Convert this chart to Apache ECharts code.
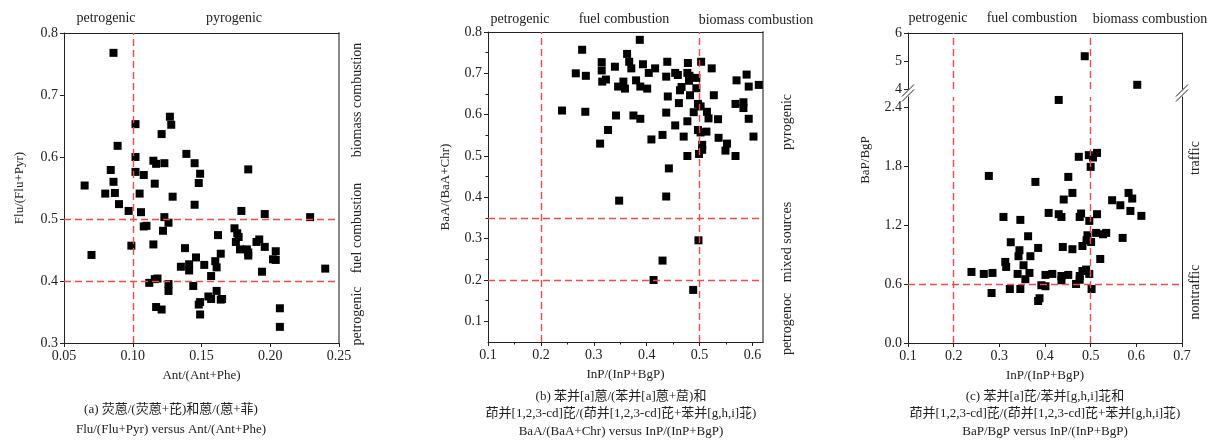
<!DOCTYPE html>
<html>
<head>
<meta charset="utf-8">
<script src="https://cdn.jsdelivr.net/npm/echarts@6/dist/echarts.min.js"></script>
<style>
  html, body { margin: 0; padding: 0; background: #fff; }
  #chart { width: 1218px; height: 444px; }
</style>
</head>
<body>
<div id="chart"></div>
<script>
// (a) Ant/(Ant+Phe) vs Flu/(Flu+Pyr)
var antX = [0.086, 0.102, 0.127, 0.128, 0.121, 0.089, 0.102, 0.115, 0.117, 0.123, 0.139, 0.145,
  0.149, 0.148, 0.184, 0.084, 0.086, 0.065, 0.102, 0.108, 0.116, 0.080, 0.087, 0.105, 0.129,
  0.090, 0.145, 0.097, 0.106, 0.179, 0.196, 0.229, 0.123, 0.126, 0.122, 0.108, 0.110,
  0.070, 0.099, 0.115, 0.138, 0.162, 0.174, 0.176, 0.177, 0.175, 0.178, 0.183, 0.184, 0.184,
  0.190, 0.192, 0.196, 0.204, 0.202, 0.204, 0.194, 0.240, 0.146, 0.152, 0.141, 0.135, 0.141,
  0.160, 0.161, 0.164, 0.157, 0.112, 0.116, 0.118, 0.126, 0.126, 0.144, 0.161, 0.117, 0.121,
  0.148, 0.149, 0.155, 0.157, 0.164, 0.165, 0.149, 0.207, 0.207];
var fluY = [0.768, 0.653, 0.665, 0.652, 0.637, 0.618, 0.600, 0.594, 0.589, 0.590, 0.605, 0.590,
  0.573, 0.558, 0.580, 0.579, 0.560, 0.554, 0.576, 0.571, 0.557, 0.541, 0.542, 0.541, 0.536,
  0.524, 0.523, 0.513, 0.511, 0.513, 0.508, 0.503, 0.503, 0.494, 0.481, 0.488, 0.489,
  0.442, 0.457, 0.459, 0.453, 0.474, 0.485, 0.477, 0.471, 0.463, 0.451, 0.451, 0.441, 0.446,
  0.463, 0.467, 0.455, 0.448, 0.435, 0.434, 0.415, 0.420, 0.438, 0.426, 0.427, 0.423, 0.417,
  0.432, 0.422, 0.444, 0.408, 0.397, 0.403, 0.404, 0.395, 0.384, 0.392, 0.384, 0.358, 0.354,
  0.362, 0.366, 0.375, 0.371, 0.370, 0.371, 0.346, 0.356, 0.326];

// (b) InP/(InP+BgP) vs BaA/(BaA+Chr)
var inpX = [0.240, 0.284, 0.266, 0.278, 0.285, 0.312, 0.315, 0.315, 0.316, 0.323, 0.340, 0.327,
  0.342, 0.346, 0.356, 0.359, 0.363, 0.367, 0.371, 0.387, 0.375, 0.380, 0.388, 0.388, 0.393,
  0.401, 0.404, 0.416, 0.409, 0.430, 0.437, 0.439, 0.437, 0.440, 0.442, 0.454, 0.459, 0.454,
  0.461, 0.463, 0.466, 0.470, 0.477, 0.477, 0.478, 0.477, 0.481, 0.480, 0.482, 0.489, 0.494,
  0.494, 0.503, 0.497, 0.502, 0.497, 0.502, 0.513, 0.505, 0.505, 0.499, 0.514, 0.517, 0.523,
  0.527, 0.535, 0.536, 0.552, 0.549, 0.568, 0.570, 0.568, 0.583, 0.583, 0.589, 0.593, 0.593,
  0.602, 0.612, 0.437, 0.348, 0.498, 0.430, 0.413, 0.488];
var baaY = [0.610, 0.607, 0.700, 0.757, 0.694, 0.530, 0.727, 0.707, 0.680, 0.685, 0.716, 0.563,
  0.598, 0.668, 0.680, 0.663, 0.747, 0.728, 0.712, 0.781, 0.598, 0.683, 0.590, 0.668, 0.722,
  0.663, 0.701, 0.712, 0.540, 0.551, 0.605, 0.728, 0.692, 0.644, 0.470, 0.701, 0.696, 0.574,
  0.628, 0.659, 0.667, 0.547, 0.584, 0.500, 0.725, 0.701, 0.694, 0.682, 0.647, 0.606, 0.664,
  0.689, 0.728, 0.626, 0.620, 0.563, 0.557, 0.559, 0.527, 0.515, 0.505, 0.607, 0.591, 0.712,
  0.647, 0.589, 0.544, 0.530, 0.513, 0.500, 0.683, 0.626, 0.630, 0.616, 0.697, 0.668, 0.590,
  0.547, 0.672, 0.402, 0.392, 0.296, 0.247, 0.200, 0.176];

// (c) InP/(InP+BgP) vs BaP/BgP
var bgpX = [0.487, 0.602, 0.430, 0.277, 0.379, 0.451, 0.474, 0.496, 0.505, 0.514, 0.500, 0.460,
  0.583, 0.591, 0.441, 0.547, 0.565, 0.587, 0.611, 0.309, 0.346, 0.408, 0.430, 0.436, 0.479,
  0.476, 0.514, 0.497, 0.325, 0.363, 0.344, 0.342, 0.368, 0.385, 0.439, 0.460, 0.482, 0.493,
  0.491, 0.501, 0.512, 0.527, 0.534, 0.570, 0.521, 0.313, 0.315, 0.353, 0.239, 0.266, 0.285,
  0.340, 0.366, 0.357, 0.401, 0.416, 0.436, 0.451, 0.436, 0.476, 0.482, 0.490, 0.497, 0.476,
  0.468, 0.392, 0.401, 0.502, 0.323, 0.346, 0.283, 0.388, 0.385];
var bapY = [5.17, 4.15, 2.47, 1.698, 1.637, 1.688, 1.892, 1.909, 1.885, 1.932, 1.790, 1.525,
  1.525, 1.468, 1.458, 1.451, 1.400, 1.342, 1.292, 1.281, 1.251, 1.322, 1.309, 1.281, 1.316,
  1.281, 1.309, 1.241, 1.024, 1.085, 0.943, 0.882, 0.882, 0.966, 0.976, 0.953, 0.986, 1.095,
  1.044, 1.027, 1.119, 1.105, 1.119, 1.068, 0.854, 0.824, 0.773, 0.790, 0.722, 0.702, 0.712,
  0.702, 0.712, 0.648, 0.692, 0.702, 0.681, 0.692, 0.638, 0.681, 0.732, 0.746, 0.702, 0.643,
  0.600, 0.587, 0.577, 0.549, 0.549, 0.549, 0.508, 0.455, 0.427];

var aTicksY = [0.3, 0.4, 0.5, 0.6, 0.7, 0.8];
var bTicksX = [0.1, 0.2, 0.3, 0.4, 0.5, 0.6];
var bTicksY = [0.1, 0.2, 0.3, 0.4, 0.5, 0.6, 0.7, 0.8];
var cTicksY = [0, 0.6, 1.2, 1.8, 2.4];

var FONT = "'Liberation Serif', 'Times New Roman', 'Noto Sans CJK SC', serif";
var RED = "#f44a4a";

function zip(xs, ys) {
  return xs.map(function (x, i) { return [x, ys[i]]; });
}
var cPts = zip(bgpX, bapY);
var cTop = cPts.filter(function (p) { return p[1] > 3; });
var cBottom = cPts.filter(function (p) { return p[1] <= 3; });

function halfSteps(list) {
  var out = [];
  for (var i = 0; i < list.length - 1; i++) out.push(+((list[i] + list[i + 1]) / 2).toFixed(3));
  return out;
}

var axisLine = { show: true, lineStyle: { color: "#222", width: 1 } };
var labelStyle = { color: "#222", fontSize: 14, fontFamily: FONT };
var nameStyle = { color: "#222", fontSize: 13, fontFamily: FONT };

function mainAxis(opts) {
  return Object.assign({
    type: "value",
    scale: true,
    splitLine: { show: false },
    axisLine: axisLine,
    axisTick: { show: true, length: 4, lineStyle: { color: "#222" } },
    axisLabel: Object.assign({ margin: 6 }, labelStyle),
    nameTextStyle: nameStyle,
    nameLocation: "middle",
  }, opts);
}
function borderAxis(grid, pos, color, width, min, max) {
  return {
    type: "value", gridIndex: grid, position: pos, min: min, max: max,
    axisLine: { show: true, onZero: false, lineStyle: { color: color, width: width } },
    axisTick: { show: false }, axisLabel: { show: false }, splitLine: { show: false },
  };
}
function minorAxis(grid, pos, min, max, values) {
  return {
    type: "value", gridIndex: grid, position: pos, min: min, max: max,
    axisLine: { show: false },
    axisTick: { show: true, length: 2.5, customValues: values, lineStyle: { color: "#222" } },
    axisLabel: { show: false }, splitLine: { show: false },
  };
}
function dashLine(items) {
  return {
    silent: true, symbol: "none", label: { show: false },
    lineStyle: { color: RED, type: [7, 4], width: 1.4 },
    emphasis: { disabled: true },
    data: items,
  };
}
function scatter(xi, yi, data, ml) {
  return {
    type: "scatter", xAxisIndex: xi, yAxisIndex: yi, data: data,
    symbol: "rect", symbolSize: 8, itemStyle: { color: "#000", opacity: 1 },
    markLine: ml, z: 3,
  };
}
function txt(x, y, s, rot, size) {
  return {
    type: "text", x: x, y: y, rotation: rot || 0, silent: true,
    style: { text: s, x: 0, y: 0, align: "center", verticalAlign: "middle",
      fill: "#222", fontSize: size || 14, fontFamily: FONT },
  };
}
function slash(x, y) {
  var g = [];
  [-2.5, 2.5].forEach(function (d) {
    g.push({ type: "line", silent: true, shape: { x1: x - 6, y1: y + d + 6, x2: x + 6, y2: y + d - 6 },
      style: { stroke: "#222", lineWidth: 1 } });
  });
  return g;
}

var chart = echarts.init(document.getElementById("chart"));
var option = {
  animation: false,
  grid: [
    { left: 64, top: 33, width: 275, height: 310 },
    { left: 488, top: 32, width: 275, height: 310 },
    { left: 908, top: 33, width: 274, height: 56 },
    { left: 908, top: 97, width: 274, height: 246 },
  ],
  xAxis: [
    mainAxis({ gridIndex: 0, min: 0.05, max: 0.25, interval: 0.05, name: "Ant/(Ant+Phe)", nameGap: 26,
      axisLabel: Object.assign({ margin: 6, formatter: function (v) { return v.toFixed(2); } }, labelStyle) }),
    borderAxis(0, "top", "#222", 1, 0.05, 0.25),
    mainAxis({ gridIndex: 1, min: 0.1, max: 0.62, name: "InP/(InP+BgP)", nameGap: 26,
      axisTick: { show: true, length: 4, customValues: bTicksX, lineStyle: { color: "#222" } },
      axisLabel: Object.assign({ margin: 6, customValues: bTicksX, formatter: function (v) { return v.toFixed(1); } }, labelStyle) }),
    minorAxis(1, "bottom", 0.1, 0.62, halfSteps(bTicksX)),
    borderAxis(1, "top", "#222", 1, 0.1, 0.62),
    { type: "value", gridIndex: 2, min: 0.1, max: 0.7, show: false },
    borderAxis(2, "top", "#222", 1, 0.1, 0.7),
    mainAxis({ gridIndex: 3, min: 0.1, max: 0.7, interval: 0.1, name: "InP/(InP+BgP)", nameGap: 26,
      axisLabel: Object.assign({ margin: 6, formatter: function (v) { return v.toFixed(1); } }, labelStyle) }),
  ],
  yAxis: [
    mainAxis({ gridIndex: 0, min: 0.3, max: 0.8, interval: 0.1, name: "Flu/(Flu+Pyr)", nameGap: 38,
      axisLabel: Object.assign({ margin: 6, formatter: function (v) { return v.toFixed(1); } }, labelStyle) }),
    borderAxis(0, "right", "#888", 2, 0.3, 0.8),
    mainAxis({ gridIndex: 1, min: 0.05, max: 0.8, name: "BaA/(BaA+Chr)", nameGap: 36,
      axisTick: { show: true, length: 4, customValues: bTicksY, lineStyle: { color: "#222" } },
      axisLabel: Object.assign({ margin: 6, customValues: bTicksY, formatter: function (v) { return v.toFixed(1); } }, labelStyle) }),
    minorAxis(1, "left", 0.05, 0.8, halfSteps(bTicksY)),
    borderAxis(1, "right", "#888", 2, 0.05, 0.8),
    mainAxis({ gridIndex: 2, min: 4, max: 6, interval: 1 }),
    borderAxis(2, "right", "#222", 1, 4, 6),
    mainAxis({ gridIndex: 3, min: 0, max: 2.5,
      axisTick: { show: true, length: 4, customValues: cTicksY, lineStyle: { color: "#222" } },
      axisLabel: Object.assign({ margin: 6, customValues: cTicksY, formatter: function (v) { return v.toFixed(1); } }, labelStyle) }),
    borderAxis(3, "right", "#222", 1, 0, 2.5),
  ],
  series: [
    scatter(0, 0, zip(antX, fluY), dashLine([{ xAxis: 0.1 }, { yAxis: 0.5 }, { yAxis: 0.4 }])),
    scatter(2, 2, zip(inpX, baaY), dashLine([{ xAxis: 0.2 }, { xAxis: 0.5 }, { yAxis: 0.35 }, { yAxis: 0.2 }])),
    scatter(5, 5, cTop, dashLine([{ xAxis: 0.2 }, { xAxis: 0.5 }])),
    scatter(7, 7, cBottom, dashLine([{ xAxis: 0.2 }, { xAxis: 0.5 }, { yAxis: 0.6 }])),
  ],
  graphic: [
    txt(106, 18, "petrogenic"), txt(234, 18, "pyrogenic"),
    txt(357, 100, "biomass combustion", Math.PI / 2), txt(357, 228, "fuel combustion", Math.PI / 2),
    txt(357, 316, "petrogenic", Math.PI / 2),
    txt(520, 19, "petrogenic"), txt(624, 19, "fuel combustion"), txt(756, 20, "biomass combustion"),
    txt(787, 122, "pyrogenic", Math.PI / 2), txt(787, 242, "mixed sources", Math.PI / 2),
    txt(787, 324, "petrogenoc", Math.PI / 2),
    txt(938, 18, "petrogenic"), txt(1032, 18, "fuel combustion"), txt(1150, 19, "biomass combustion"),
    txt(1195, 158, "traffic", Math.PI / 2), txt(1195, 292, "nontraffic", Math.PI / 2),
    txt(866, 160, "BaP/BgP", Math.PI / 2, 13),
    txt(171, 410, "(a) 荧蒽/(荧蒽+芘)和蒽/(蒽+菲)", 0, 13),
    txt(171, 430, "Flu/(Flu+Pyr) versus Ant/(Ant+Phe)", 0, 13),
    txt(621, 397, "(b) 苯并[a]蒽/(苯并[a]蒽+䓛)和", 0, 13),
    txt(621, 414, "茚并[1,2,3-cd]芘/(茚并[1,2,3-cd]芘+苯并[g,h,i]苝)", 0, 13),
    txt(621, 432, "BaA/(BaA+Chr) versus InP/(InP+BgP)", 0, 13),
    txt(1045, 397, "(c) 苯并[a]芘/苯并[g,h,i]苝和", 0, 13),
    txt(1045, 414, "茚并[1,2,3-cd]芘/(茚并[1,2,3-cd]芘+苯并[g,h,i]苝)", 0, 13),
    txt(1045, 432, "BaP/BgP versus InP/(InP+BgP)", 0, 13),
  ].concat(slash(908, 93), slash(1182, 93)),
};
chart.setOption(option);
</script>
</body>
</html>
